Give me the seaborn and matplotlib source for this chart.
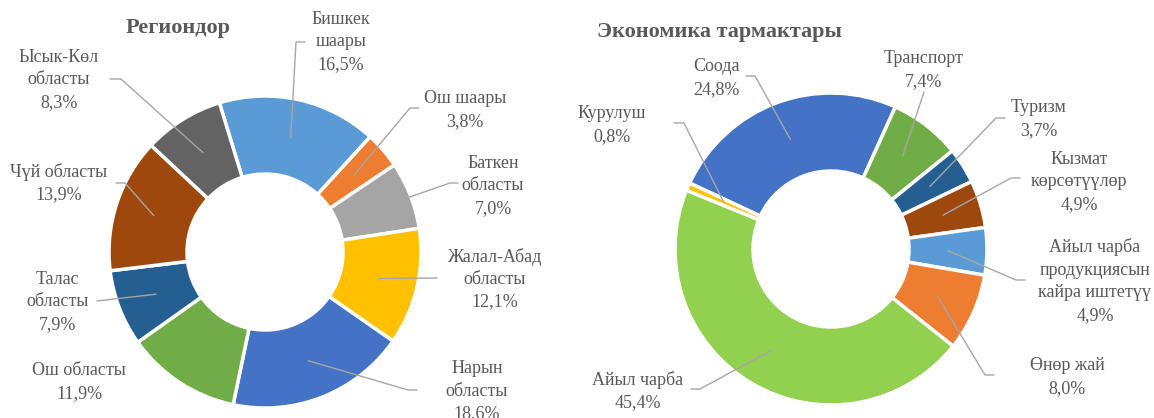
import numpy as np
import seaborn as sns
import matplotlib.pyplot as plt

# --- data ---
region_labels = ["Бишкек\nшаары", "Ош шаары", "Баткен\nобласты", "Жалал-Абад\nобласты",
                 "Нарын\nобласты", "Ош областы", "Талас\nобласты", "Чүй областы",
                 "Ысык-Көл\nобласты"]
region_values = [16.5, 3.8, 7.0, 12.1, 18.6, 11.9, 7.9, 13.9, 8.3]
region_colors = ["#5B9BD5", "#ED7D31", "#A5A5A5", "#FFC000", "#4472C4",
                 "#70AD47", "#255E91", "#9E480E", "#636363"]

sector_labels = ["Соода", "Транспорт", "Туризм", "Кызмат\nкөрсөтүүлөр",
                 "Айыл чарба\nпродукциясын\nкайра иштетүү", "Өнөр жай",
                 "Айыл чарба", "Курулуш"]
sector_values = [24.8, 7.4, 3.7, 4.9, 4.9, 8.0, 45.4, 0.8]
sector_colors = ["#4472C4", "#70AD47", "#255E91", "#9E480E", "#5B9BD5",
                 "#ED7D31", "#92D050", "#FFC000"]

W, H = 1154, 418

sns.set_theme(style="white")
plt.rcParams['font.family'] = ['Liberation Serif', 'DejaVu Serif']

TEXT = "#595959"
LINE = "#A6A6A6"

fig = plt.figure(figsize=(W / 100, H / 100), dpi=100)
ax = fig.add_axes([0, 0, 1, 1])


def img(x, y):
    # image-pixel coordinates (y down) -> axes data coordinates (y up)
    return x, H - y


# label layout in image pixels: (text center, elbow, tail end)
region_layout = [
    ((341, 42), (296, 42), (305, 42)),
    ((465, 110), (410, 108), (419, 108)),
    ((493, 186), (450, 183), (458, 183)),
    ((495, 279), (437, 278), None),
    ((477, 391), (408, 390), (417, 390)),
    ((79, 382), None, None),
    ((58, 302), (97, 301), None),
    ((59, 183), (125, 183), (116, 183)),
    ((59, 80), (121, 79), (110, 79)),
]
sector_layout = [
    ((716, 78), (755, 76), (746, 76)),
    ((924, 70), (924, 92), None),
    ((1039, 119), (996, 118), (1005, 118)),
    ((1079, 182), (1011, 178), (1020, 178)),
    ((1095, 281), (1016, 280), (1025, 280)),
    ((1067, 377), (985, 375), (994, 375)),
    ((638, 391), (700, 389), (691, 389)),
    ((612, 125), (684, 123), (674, 123)),
]


def donut(center, radius, values, colors, labels, layout, startangle):
    cx, cy = img(*center)
    wedges, _ = ax.pie(values, colors=colors, startangle=startangle,
                       counterclock=False, center=(cx, cy), radius=radius,
                       wedgeprops=dict(width=radius * 0.5, edgecolor="white",
                                       linewidth=2.5))
    for w, lab, val, (tpos, elbow, tail) in zip(wedges, labels, values, layout):
        txt = f"{lab}\n{val:.1f}%".replace(".", ",")
        tx, ty = img(*tpos)
        ax.text(tx, ty, txt, ha="center", va="center", multialignment="center",
                fontsize=13, color=TEXT, linespacing=1.42)
        if elbow is None:
            continue
        ang = np.deg2rad((w.theta1 + w.theta2) / 2)
        ax0 = cx + 0.75 * radius * np.cos(ang)
        ay0 = cy + 0.75 * radius * np.sin(ang)
        pts = [(ax0, ay0), img(*elbow)]
        if tail is not None:
            pts.append(img(*tail))
        xs, ys = zip(*pts)
        ax.plot(xs, ys, color=LINE, lw=1)


donut((265, 252), 156, region_values, region_colors, region_labels,
      region_layout, 107)
donut((831, 249), 156, sector_values, sector_colors, sector_labels,
      sector_layout, 155)

ax.text(*img(178, 28), "Региондор", ha="center", va="center",
        fontsize=16, fontweight="bold", color=TEXT)
ax.text(*img(597, 32), "Экономика тармактары", ha="left", va="center",
        fontsize=16, fontweight="bold", color=TEXT)

ax.set_xlim(0, W)
ax.set_ylim(0, H)
ax.set_aspect("auto")
ax.axis("off")

fig.savefig("out.png", dpi=100)
